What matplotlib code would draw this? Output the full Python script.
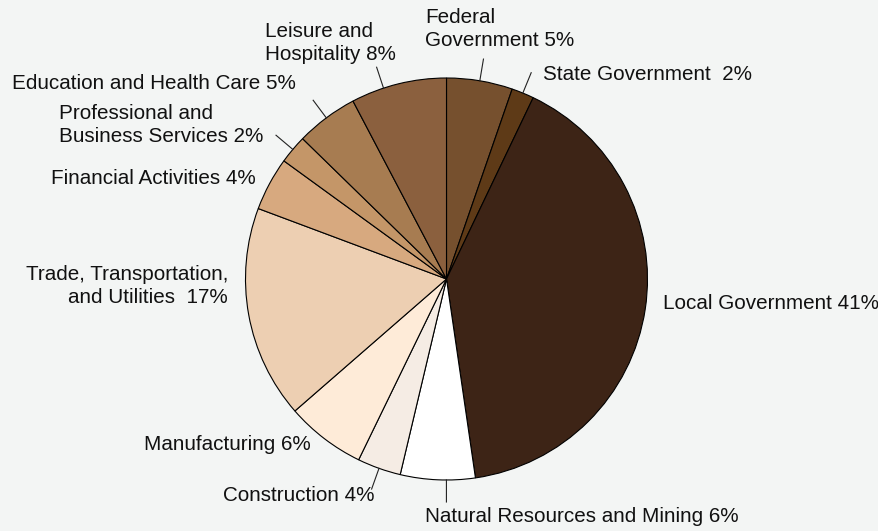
import matplotlib.pyplot as plt
import numpy as np

plt.rcParams['font.family'] = ['Liberation Sans', 'DejaVu Sans']

sectors = ["Federal Government", "State Government", "Local Government",
           "Natural Resources and Mining", "Construction", "Manufacturing",
           "Trade, Transportation, and Utilities", "Financial Activities",
           "Professional and Business Services", "Education and Health Care",
           "Leisure and Hospitality"]
shares = [5.3, 1.8, 40.6, 6.0, 3.5, 6.4, 17.1, 4.3, 2.3, 5.0, 7.7]
labels = ["Federal\nGovernment 5%", "State Government  2%", "Local Government 41%",
          "Natural Resources and Mining 6%", "Construction 4%", "Manufacturing 6%",
          "Trade, Transportation,\nand Utilities  17%", "Financial Activities 4%",
          "Professional and\nBusiness Services 2%", "Education and Health Care 5%",
          "Leisure and\nHospitality 8%"]
colors = ["#76502e", "#5e3a17", "#3d2416", "#ffffff", "#f5ece4", "#feebd8",
          "#edcfb2", "#d7a97f", "#c49668", "#a77c51", "#8b603e"]

# label placement in pixel coords (x, y from top), alignment, leader shift (deg) or None
label_pos = [(425, 29, "left", 0), (543, 74, "left", 0), (663, 303, "left", None),
             (425, 517, "left", 2.5), (375, 496, "right", 0), (311, 445, "right", None),
             (228, 286, "right", None), (256, 178, "right", None), (59, 125, "left", 0),
             (296, 83, "right", 0), (265, 43, "left", 4.4)]

W, H = 879, 531
fig = plt.figure(figsize=(W / 100, H / 100), dpi=100)
fig.patch.set_facecolor("#f3f5f4")
ax = fig.add_axes([0, 0, 1, 1])

cx, cy, r = 446.5, H - 279, 201
wedges, _ = ax.pie(shares, colors=colors, startangle=90, counterclock=False,
                   center=(cx, cy), radius=r, frame=True,
                   wedgeprops=dict(edgecolor="black", linewidth=0.8))
ax.set_xlim(0, W)
ax.set_ylim(0, H)
ax.axis("off")

for w, lab, (lx, ly, ha, shift) in zip(wedges, labels, label_pos):
    if shift is not None:
        ang = np.deg2rad((w.theta1 + w.theta2) / 2 + shift)
        x0, y0 = cx + r * np.cos(ang), cy + r * np.sin(ang)
        x1, y1 = cx + (r + 22) * np.cos(ang), cy + (r + 22) * np.sin(ang)
        ax.plot([x0, x1], [y0, y1], color="#222222", lw=0.8)
    ax.text(lx, H - ly, lab, ha=ha, va="center", fontsize=14.9, color="#111111",
            multialignment=ha, linespacing=1.32)

fig.savefig("out.png", dpi=100, facecolor=fig.get_facecolor())
